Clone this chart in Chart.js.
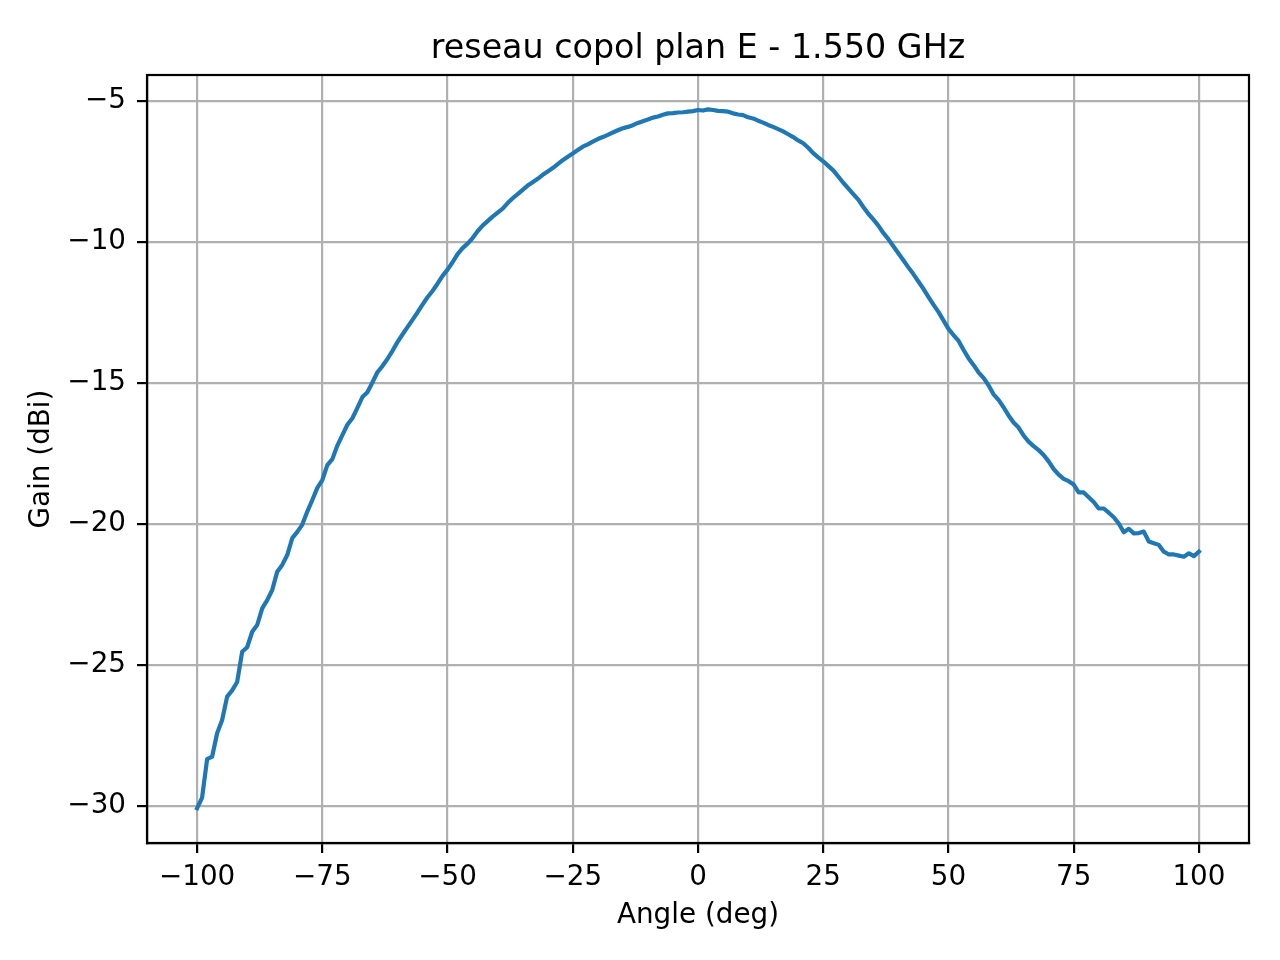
<!DOCTYPE html>
<html lang="fr">
<head>
  <meta charset="UTF-8" />
  <title>reseau copol plan E - 1.550 GHz</title>
  <script src="https://cdn.jsdelivr.net/npm/chart.js@4.4.1/dist/chart.umd.min.js"></script>
  <style>
    html, body {
      margin: 0;
      padding: 0;
      background: #fff;
    }
    #wrap {
      width: 1280px;
      height: 960px;
    }
  </style>
</head>
<body>
  <div id="wrap">
    <canvas id="gainChart" width="1280" height="960"></canvas>
  </div>

  <script>
    // angles mesurés (deg)
    const angles = [
      -100, -99, -98, -97, -96, -95, -94, -93, -92, -91,
      -90, -89, -88, -87, -86, -85, -84, -83, -82, -81,
      -80, -79, -78, -77, -76, -75, -74, -73, -72, -71,
      -70, -69, -68, -67, -66, -65, -64, -63, -62, -61,
      -60, -59, -58, -57, -56, -55, -54, -53, -52, -51,
      -50, -49, -48, -47, -46, -45, -44, -43, -42, -41,
      -40, -39, -38, -37, -36, -35, -34, -33, -32, -31,
      -30, -29, -28, -27, -26, -25, -24, -23, -22, -21,
      -20, -19, -18, -17, -16, -15, -14, -13, -12, -11,
      -10, -9, -8, -7, -6, -5, -4, -3, -2, -1,
      0, 1, 2, 3, 4, 5, 6, 7, 8, 9,
      10, 11, 12, 13, 14, 15, 16, 17, 18, 19,
      20, 21, 22, 23, 24, 25, 26, 27, 28, 29,
      30, 31, 32, 33, 34, 35, 36, 37, 38, 39,
      40, 41, 42, 43, 44, 45, 46, 47, 48, 49,
      50, 51, 52, 53, 54, 55, 56, 57, 58, 59,
      60, 61, 62, 63, 64, 65, 66, 67, 68, 69,
      70, 71, 72, 73, 74, 75, 76, 77, 78, 79,
      80, 81, 82, 83, 84, 85, 86, 87, 88, 89,
      90, 91, 92, 93, 94, 95, 96, 97, 98, 99,
      100,
    ];

    // gain copolaire (dBi)
    const gains = [
      -30.08, -29.70, -28.34, -28.25, -27.42, -26.95, -26.12, -25.90, -25.60, -24.53,
      -24.37, -23.82, -23.58, -22.99, -22.70, -22.34, -21.69, -21.45, -21.10, -20.50,
      -20.28, -20.02, -19.56, -19.15, -18.72, -18.44, -17.91, -17.70, -17.22, -16.85,
      -16.48, -16.25, -15.88, -15.50, -15.33, -14.98, -14.62, -14.40, -14.15, -13.86,
      -13.55, -13.28, -13.02, -12.76, -12.50, -12.22, -11.96, -11.74, -11.48, -11.20,
      -10.98, -10.72, -10.43, -10.22, -10.06, -9.86, -9.62, -9.42, -9.26, -9.10,
      -8.96, -8.82, -8.62, -8.45, -8.30, -8.15, -8.00, -7.88, -7.76, -7.62,
      -7.50, -7.38, -7.24, -7.10, -6.98, -6.86, -6.74, -6.62, -6.54, -6.44,
      -6.35, -6.28, -6.20, -6.12, -6.04, -5.97, -5.92, -5.86, -5.78, -5.72,
      -5.66, -5.59, -5.55, -5.49, -5.44, -5.43, -5.41, -5.40, -5.38, -5.36,
      -5.32, -5.34, -5.30, -5.32, -5.35, -5.36, -5.38, -5.44, -5.48, -5.50,
      -5.58, -5.62, -5.70, -5.77, -5.85, -5.92, -6.00, -6.08, -6.18, -6.28,
      -6.40, -6.50, -6.66, -6.85, -7.00, -7.14, -7.30, -7.46, -7.68, -7.90,
      -8.10, -8.30, -8.50, -8.76, -9.00, -9.20, -9.42, -9.68, -9.90, -10.15,
      -10.40, -10.65, -10.90, -11.14, -11.40, -11.66, -11.95, -12.22, -12.48, -12.78,
      -13.08, -13.30, -13.50, -13.82, -14.12, -14.36, -14.62, -14.82, -15.08, -15.40,
      -15.60, -15.86, -16.15, -16.40, -16.58, -16.86, -17.08, -17.24, -17.38, -17.55,
      -17.78, -18.05, -18.25, -18.40, -18.48, -18.60, -18.88, -18.88, -19.05, -19.22,
      -19.45, -19.45, -19.60, -19.76, -19.98, -20.29, -20.17, -20.33, -20.32, -20.27,
      -20.62, -20.68, -20.74, -20.98, -21.08, -21.08, -21.12, -21.16, -21.04, -21.14,
      -20.98,
    ];

    const xTicks = [-100, -75, -50, -25, 0, 25, 50, 75, 100];
    const yTicks = [-30, -25, -20, -15, -10, -5];

    const points = angles.map((a, i) => ({ x: a, y: gains[i] }));

    // signe moins typographique comme matplotlib
    const fmt = (v) => (v < 0 ? "\u2212" + Math.abs(v) : String(v));

    Chart.defaults.font.family = "'DejaVu Sans', sans-serif";
    Chart.defaults.color = "#000";

    // cadre noir autour de la zone de tracé
    const frame = {
      id: "frame",
      afterDraw(chart) {
        const { ctx, chartArea: a } = chart;
        ctx.save();
        ctx.strokeStyle = "#000";
        ctx.lineWidth = 2.2;
        ctx.strokeRect(a.left, a.top, a.right - a.left, a.bottom - a.top);
        ctx.restore();
      },
    };

    const ctx = document.getElementById("gainChart").getContext("2d");
    new Chart(ctx, {
      type: "line",
      data: {
        datasets: [
          {
            label: "copol",
            data: points,
            borderColor: "#1f77b4",
            borderWidth: 4.2,
            borderJoinStyle: "round",
            borderCapStyle: "square",
            pointRadius: 0,
            tension: 0,
            fill: false,
          },
        ],
      },
      options: {
        responsive: false,
        devicePixelRatio: 1,
        animation: false,
        layout: { padding: { left: 0, right: 31, top: 0, bottom: 0 } },
        plugins: {
          legend: { display: false },
          title: { display: false },
          tooltip: { enabled: false },
        },
        scales: {
          x: {
            type: "linear",
            position: "bottom",
            min: -110,
            max: 110,
            afterBuildTicks: (s) => {
              s.ticks = xTicks.map((v) => ({ value: v }));
            },
            afterFit: (s) => {
              s.height = 117;
            },
            ticks: {
              callback: fmt,
              font: { size: 27.8 },
              padding: 8,
              maxRotation: 0,
            },
            grid: {
              color: "#b0b0b0",
              lineWidth: 2.2,
              tickColor: "#000",
              tickWidth: 2.2,
              tickLength: 10,
            },
            border: { color: "#000", width: 2.2 },
            title: {
              display: true,
              text: "Angle (deg)",
              font: { size: 27.8 },
              padding: { top: 0, bottom: 28 },
            },
          },
          top: {
            type: "linear",
            position: "top",
            afterFit: (s) => {
              s.height = 75;
            },
            ticks: { display: false },
            grid: { display: false, drawTicks: false },
            border: { display: false },
            title: {
              display: true,
              text: "reseau copol plan E - 1.550 GHz",
              font: { size: 33.3 },
              padding: { top: 29, bottom: 0 },
            },
          },
          y: {
            type: "linear",
            position: "left",
            min: -31.31,
            max: -4.08,
            afterBuildTicks: (s) => {
              s.ticks = yTicks.map((v) => ({ value: v }));
            },
            afterFit: (s) => {
              s.width = 147;
            },
            ticks: {
              callback: fmt,
              font: { size: 27.8 },
              padding: 11,
            },
            grid: {
              color: "#b0b0b0",
              lineWidth: 2.2,
              tickColor: "#000",
              tickWidth: 2.2,
              tickLength: 10,
            },
            border: { color: "#000", width: 2.2 },
            title: {
              display: true,
              text: "Gain (dBi)",
              font: { size: 27.8 },
              padding: { top: 25, bottom: 0 },
            },
          },
        },
      },
      plugins: [frame],
    });
  </script>
</body>
</html>
